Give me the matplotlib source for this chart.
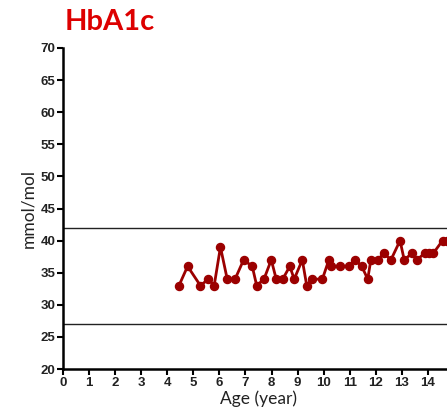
import numpy as np
import matplotlib
matplotlib.use('Agg')
import matplotlib.pyplot as plt

#---------------------- DATA
age = [4.45, 4.78, 5.27, 5.58, 5.80, 6.04, 6.30, 6.60, 6.93, 7.26, 7.43, 7.71,
       7.99, 8.18, 8.43, 8.70, 8.87, 9.18, 9.35, 9.54, 9.95, 10.20, 10.30, 10.64,
       10.96, 11.21, 11.46, 11.69, 11.81, 12.07, 12.31, 12.58, 12.93, 13.09,
       13.38, 13.57, 13.87, 14.03, 14.20, 14.56, 14.75]
hba1c = [33, 36, 33, 34, 33, 39, 34, 34, 37, 36, 33, 34,
         37, 34, 34, 36, 34, 37, 33, 34, 34, 37, 36, 36,
         36, 37, 36, 34, 37, 37, 38, 37, 40, 37,
         38, 37, 38, 38, 38, 40, 40]
ref_lo = 27
ref_hi = 42
xticks = np.arange(0, 16, 1)
yticks = np.arange(20, 75, 5)

#------------------------PLOTTING
red = '#9b0000'

fig = plt.figure(figsize=(4.47, 4.18), dpi=100)
ax = fig.add_axes([63/447, 1-369/418, 391/447, 321/418])  # runs past right edge

ax.axhline(ref_hi, color='#222222', lw=1.0, zorder=1)
ax.axhline(ref_lo, color='#222222', lw=1.0, zorder=1)
ax.plot(age, hba1c, color=red, lw=2.0, marker='o', ms=5.8, mec=red, mfc=red, zorder=3)

ax.set_xlim(0, 15)
ax.set_ylim(20, 70)
ax.set_xticks(xticks)
ax.set_yticks(yticks)
ax.spines['top'].set_visible(False)
ax.spines['right'].set_visible(False)
ax.spines['left'].set_linewidth(1.8)
ax.spines['bottom'].set_linewidth(1.8)
ax.tick_params(direction='out', width=1.5, length=4, labelsize=9.5, pad=1.5)
for lab in ax.get_xticklabels() + ax.get_yticklabels():
    lab.set_fontfamily('Liberation Sans')
    lab.set_fontweight('bold')
    lab.set_color('#222222')

ax.set_xlabel('Age (year)', fontsize=12.5, family='Lato', color='#222222', labelpad=1)
ax.set_ylabel('mmol/mol', fontsize=12.5, family='Lato', color='#222222', labelpad=3)
fig.text(65/447, 1-22/418, 'HbA1c', color='#dd0000', fontsize=21, fontweight='bold',
         family='Lato', va='center', ha='left')

plt.savefig('out.png', dpi=100)
